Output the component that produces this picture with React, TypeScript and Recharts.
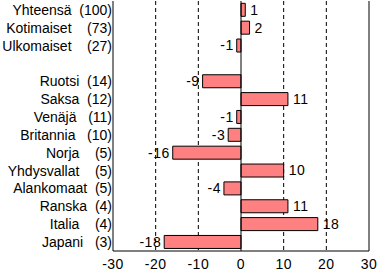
import React from "react";
import {
  Bar,
  BarChart,
  CartesianGrid,
  LabelList,
  ReferenceLine,
  XAxis,
  YAxis,
} from "recharts";

// category labels (spacing as in the original table)
const labels = [
  "Yhteensä  (100)",
  "Kotimaiset    (73)",
  "Ulkomaiset    (27)",
  "",
  "Ruotsi  (14)",
  "Saksa  (12)",
  "Venäjä   (11)",
  "Britannia   (10)",
  "Norja    (5)",
  "Yhdysvallat    (5)",
  "Alankomaat  (5)",
  "Ranska  (4)",
  "Italia    (4)",
  "Japani   (3)",
];
const changes = [1, 2, -1, null, -9, 11, -1, -3, -16, 10, -4, 11, 18, -18];
const xTicks = [-30, -20, -10, 0, 10, 20, 30];
const gridX = [-20, -10, 10, 20];

const data = labels.map((l, i) => ({
  key: l || `blank${i}`,
  value: changes[i],
}));

const font = "'Liberation Sans', Arial, sans-serif";

const CatTick = (props: any) => {
  const { x, y, payload } = props;
  const raw = String(payload.value);
  const label = raw.startsWith("blank") ? "" : raw.replace(/ /g, "\u00a0");
  return (
    <text
      x={x}
      y={y}
      dy="0.35em"
      textAnchor="end"
      fontSize={14}
      fontFamily={font}
      fill="#000"
    >
      {label}
    </text>
  );
};

const ValueLabel = (props: any) => {
  const { x, y, width, height, value } = props;
  if (value == null) return null;
  const left = Math.min(x, x + width);
  const right = Math.max(x, x + width);
  const neg = value < 0;
  return (
    <text
      x={neg ? left - 3 : right + 5}
      y={y + height / 2}
      dy="0.35em"
      textAnchor={neg ? "end" : "start"}
      fontSize={14}
      fontFamily={font}
      letterSpacing={0.5}
      fill="#000"
    >
      {value}
    </text>
  );
};

export default function App() {
  return (
    <div style={{ position: "absolute", left: 0, top: 0 }}>
      <BarChart
        width={377}
        height={271}
        data={data}
        layout="vertical"
        margin={{ top: 1, right: 8, bottom: 0, left: 0 }}
        barCategoryGap="13%"
      >
        <CartesianGrid
          horizontal={false}
          stroke="#000"
          strokeDasharray="4 3"
          verticalValues={gridX}
        />
        <XAxis
          type="number"
          domain={[-30, 30]}
          ticks={xTicks}
          interval={0}
          tickLine={false}
          axisLine={{ stroke: "#000" }}
          height={20}
          tick={{ fontSize: 14, fontFamily: font, fill: "#000", letterSpacing: 0.5 }}
        />
        <XAxis
          xAxisId="top"
          orientation="top"
          type="number"
          domain={[-30, 30]}
          tick={false}
          tickLine={false}
          height={0}
          axisLine={{ stroke: "#000" }}
        />
        <YAxis
          type="category"
          dataKey="key"
          width={113}
          interval={0}
          tickLine={false}
          tickSize={0}
          tickMargin={1}
          axisLine={{ stroke: "#000" }}
          tick={<CatTick />}
        />
        <ReferenceLine x={0} stroke="#000" />
        <ReferenceLine x={30} stroke="#000" />
        <Bar
          dataKey="value"
          fill="#FF8080"
          stroke="#000"
          strokeWidth={1}
          isAnimationActive={false}
        >
          <LabelList dataKey="value" content={<ValueLabel />} />
        </Bar>
      </BarChart>
    </div>
  );
}
